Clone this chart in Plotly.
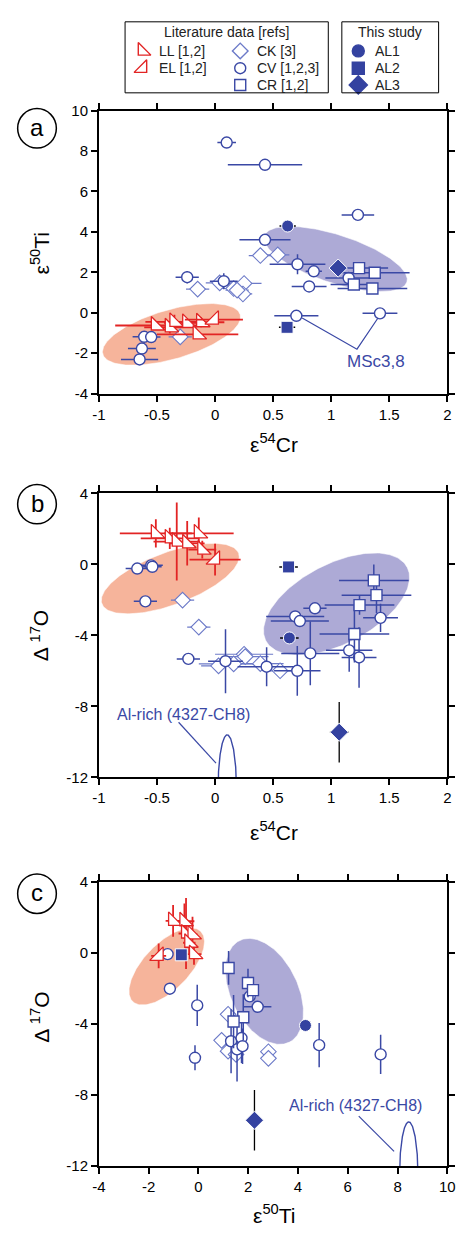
import numpy as np
import plotly.graph_objects as go

W, H = 465, 1237

# ---------------- panel (a): eps54Cr (x) vs eps50Ti (y) ----------------
a_LL_x = [-0.51, -0.39, -0.35, -0.24, -0.12, -0.15]
a_LL_y = [-0.63, -0.72, -0.45, -0.50, -0.47, -1.07]
a_LL_xe = [0.35, 0.22, 0.25, 0.20, 0.20, 0.35]
a_LL_ye = [0.20, 0.30, 0.35, 0.20, 0.25, 0.20]
a_EL_x = [-0.01]
a_EL_y = [-0.34]
a_EL_xe = [0.25]
a_EL_ye = [0.20]
a_CV_x = [0.10, 0.43, 1.23, 0.43, 0.71, 0.85, 1.15, 0.81, -0.24, 0.075, 0.70, 1.42, -0.61, -0.55, -0.63, -0.65]
a_CV_y = [8.42, 7.32, 4.84, 3.61, 2.40, 2.05, 1.72, 1.30, 1.76, 1.56, -0.15, -0.03, -1.19, -1.20, -1.77, -2.31]
a_CV_xe = [0.08, 0.32, 0.14, 0.22, 0.24, 0.07, 0.20, 0.15, 0.10, 0.12, 0.19, 0.15, 0.10, 0.08, 0.12, 0.16]
a_CV_ye = [0.10, 0.10, 0.10, 0.15, 0.50, 0.10, 0.15, 0.10, 0.30, 0.40, 0.10, 0.10, 0.10, 0.10, 0.10, 0.10]
a_CK_x = [0.39, 0.54, -0.15, 0.04, 0.16, 0.25, 0.24, 0.19, -0.30]
a_CK_y = [2.83, 2.86, 1.17, 1.48, 1.20, 1.45, 0.93, 1.12, -1.19]
a_CK_xe = [0.10, 0.10, 0.10, 0.12, 0.10, 0.15, 0.08, 0.10, 0.10]
a_CK_ye = [0.15, 0.15, 0.15, 0.15, 0.15, 0.15, 0.15, 0.15, 0.15]
a_CR_x = [1.24, 1.375, 1.195, 1.355]
a_CR_y = [2.21, 1.98, 1.40, 1.20]
a_CR_xe = [0.25, 0.30, 0.20, 0.30]
a_CR_ye = [0.15, 0.15, 0.15, 0.15]
a_AL1 = [0.625, 4.29]
a_AL2 = [0.62, -0.72]
a_AL3 = [1.06, 2.21]
a_AL_xe = 0.07

# ---------------- panel (b): eps54Cr (x) vs D17O (y) ----------------
b_LL_x = [-0.51, -0.39, -0.33, -0.24, -0.14, -0.11]
b_LL_y = [1.74, 1.46, 1.28, 1.18, 1.74, 0.82]
b_LL_xe = [0.31, 0.25, 0.20, 0.15, 0.30, 0.12]
b_LL_ye = [0.80, 0.60, 2.20, 1.25, 0.90, 0.50]
b_EL_x = [0.0]
b_EL_y = [0.26]
b_EL_xe = [0.22]
b_EL_ye = [0.90]
b_CV_x = [-0.67, -0.55, -0.54, -0.60, 0.86, 0.69, 0.73, 1.425, 0.82, 1.155, 1.24, -0.23, 0.09, 0.444, 0.708]
b_CV_y = [-0.24, -0.06, -0.14, -2.09, -2.48, -2.94, -3.20, -3.02, -5.02, -4.85, -5.25, -5.33, -5.46, -5.77, -6.00]
b_CV_xe = [0.10, 0.10, 0.08, 0.10, 0.10, 0.25, 0.25, 0.15, 0.25, 0.20, 0.15, 0.10, 0.15, 0.25, 0.20]
b_CV_ye = [0.10, 0.10, 0.10, 0.10, 0.10, 0.10, 0.10, 0.80, 1.80, 1.20, 1.70, 0.10, 1.80, 1.10, 1.40]
b_CK_x = [-0.28, -0.14, 0.25, 0.26, 0.03, 0.16, 0.39, 0.56]
b_CK_y = [-2.02, -3.54, -5.07, -5.20, -5.72, -5.61, -5.60, -6.00]
b_CK_xe = [0.10, 0.10, 0.25, 0.20, 0.15, 0.30, 0.20, 0.10]
b_CK_ye = [0.10, 0.10, 0.10, 0.10, 0.10, 0.10, 0.10, 0.10]
b_CR_x = [1.367, 1.39, 1.244, 1.20]
b_CR_y = [-0.91, -1.74, -2.30, -3.93]
b_CR_xe = [0.30, 0.30, 0.30, 0.30]
b_CR_ye = [0.90, 1.00, 0.55, 1.60]
b_AL1 = [0.64, -4.15]
b_AL2 = [0.633, -0.15]
b_AL3 = [1.069, -9.46]
b_AL_xe = 0.08
b_AL3_ye = 1.7

# ---------------- panel (c): eps50Ti (x) vs D17O (y) ----------------
c_LL_x = [-1.02, -0.565, -0.50, -0.24, -0.37, -0.18]
c_LL_y = [1.80, 1.78, 1.09, 1.04, 0.57, -0.07]
c_LL_xe = [0.30, 0.40, 0.30, 0.20, 0.25, 0.30]
c_LL_ye = [0.90, 1.00, 2.00, 1.00, 0.60, 0.60]
c_EL_x = [-1.60]
c_EL_y = [-0.17]
c_EL_xe = [0.30]
c_EL_ye = [0.70]
c_CV_x = [-1.24, -1.15, -0.05, 2.06, 2.38, 1.31, 1.73, 1.55, 1.77, -0.14, 4.85, 7.32]
c_CV_y = [-0.07, -2.02, -2.96, -2.45, -3.04, -4.98, -4.80, -5.44, -5.26, -5.91, -5.20, -5.72]
c_CV_xe = [0.15, 0.15, 0.10, 0.20, 0.55, 0.15, 0.20, 0.20, 0.20, 0.10, 0.10, 0.10]
c_CV_ye = [0.10, 0.10, 1.16, 0.20, 0.30, 1.80, 1.40, 1.80, 1.00, 0.70, 1.25, 1.10]
c_CK_x = [1.19, 0.93, 1.19, 1.51, 2.81, 2.81]
c_CK_y = [-3.46, -4.93, -5.54, -5.72, -5.57, -5.94]
c_CK_xe = [0.10, 0.10, 0.10, 0.10, 0.10, 0.10]
c_CK_ye = [0.10, 0.10, 0.10, 0.10, 0.10, 0.10]
c_CR_x = [1.21, 1.99, 2.19, 1.80, 1.41]
c_CR_y = [-0.85, -1.70, -2.10, -3.63, -3.87]
c_CR_xe = [0.15, 0.15, 0.15, 0.15, 0.15]
c_CR_ye = [0.95, 0.80, 0.60, 1.30, 1.50]
c_AL1 = [4.30, -4.09]
c_AL2 = [-0.69, -0.11]
c_AL3 = [2.25, -9.43]
c_AL3_ye = 1.7

# ---------------- fields (ellipses: centre, axis vector 1, axis vector 2) ----------------
ELL_a_red = [(-0.375, -1.07), (0.592, 0.976), (0.0565, -1.173)]
ELL_a_blue = [(1.038, 2.66), (0.614, -1.14), (-0.0615, -1.135)]
ELL_b_red = [(-0.386, -0.806), (0.589, 1.42), (0.0755, -1.39)]
ELL_b_blue = [(1.046, -2.24), (0.61, 2.05), (0.152, -2.02)]
ELL_c_red = [(-1.277, -0.767), (1.373, 1.97), (0.646, -0.917)]
ELL_c_blue = [(2.651, -2.17), (1.01, -2.856), (-1.198, -0.864)]
ALRICH_b = [(0.105, -12.61), (0.079, 0.0), (0.0, 3.0)]
ALRICH_c = [(8.45, -12.52), (0.37, 0.0), (0.0, 3.0)]

# annotation leader lines
MSC_LINE_X = [0.75, 1.222, 1.403]
MSC_LINE_Y = [-0.26, -1.80, -0.26]
ALR_b_LINE_X = [-0.314, 0.008]
ALR_b_LINE_Y = [-8.9, -11.2]
ALR_c_LINE_X = [6.44, 7.86]
ALR_c_LINE_Y = [-9.2, -11.18]

# ticks
XT_Cr = [-1, -0.5, 0, 0.5, 1, 1.5, 2]
XT_Cr_txt = ['-1', '-0.5', '0', '0.5', '1', '1.5', '2']
YT_Ti = [-4, -2, 0, 2, 4, 6, 8, 10]
YT_Ti_txt = ['-4', '-2', '0', '2', '4', '6', '8', '10']
YT_O = [-12, -8, -4, 0, 4]
YT_O_txt = ['-12', '-8', '-4', '0', '4']
XT_Ti = [-4, -2, 0, 2, 4, 6, 8, 10]
XT_Ti_txt = ['-4', '-2', '0', '2', '4', '6', '8', '10']

RED = 'rgb(226,36,36)'
BLUE = 'rgb(58,72,165)'
LBLUE = 'rgb(108,122,200)'
DBLUE = 'rgb(52,66,160)'
SALMON = 'rgb(246,180,155)'
PURPLE = 'rgb(173,170,214)'
FONT = 'Liberation Sans, Arial, sans-serif'

fig = go.Figure()


def ellipse(par, n=200):
    (cx, cy), (ux, uy), (vx, vy) = par
    t = np.linspace(0, 2 * np.pi, n)
    return cx + ux * np.cos(t) + vx * np.sin(t), cy + uy * np.cos(t) + vy * np.sin(t)


def add_field(par, color, k):
    x, y = ellipse(par)
    fig.add_trace(go.Scatter(x=x, y=y, mode='lines', fill='toself', fillcolor=color,
                             line=dict(color='rgba(255,255,255,0.55)', width=1),
                             xaxis='x' + k, yaxis='y' + k, showlegend=False, hoverinfo='skip'))


def add_pts(x, y, xe, ye, k, symbol, size, edge, fill, lw, ecol, eth=1.5):
    fig.add_trace(go.Scatter(
        x=x, y=y, mode='markers', xaxis='x' + k, yaxis='y' + k, showlegend=False,
        marker=dict(symbol=symbol, size=size, color=fill, line=dict(color=edge, width=lw)),
        error_x=dict(type='data', array=xe, visible=True, color=ecol, thickness=eth, width=0),
        error_y=dict(type='data', array=ye, visible=True, color=ecol, thickness=eth, width=0)))


def add_al(pt, symbol, k, xe=None, ye=None, size=12):
    kw = {}
    if xe is not None:
        kw['error_x'] = dict(type='data', array=[xe], visible=True, color='black', thickness=1.5, width=0)
    if ye is not None:
        kw['error_y'] = dict(type='data', array=[ye], visible=True, color='black', thickness=1.3, width=0)
    fig.add_trace(go.Scatter(x=[pt[0]], y=[pt[1]], mode='markers', xaxis='x' + k, yaxis='y' + k,
                             showlegend=False,
                             marker=dict(symbol=symbol, size=size, color=DBLUE,
                                         line=dict(color='white', width=1)), **kw))


def add_line(x, y, k):
    fig.add_trace(go.Scatter(x=x, y=y, mode='lines', line=dict(color=BLUE, width=1.2),
                             xaxis='x' + k, yaxis='y' + k, showlegend=False, hoverinfo='skip'))


panels = [
    ('', ELL_a_red, ELL_a_blue,
     (a_CK_x, a_CK_y, a_CK_xe, a_CK_ye), (a_CV_x, a_CV_y, a_CV_xe, a_CV_ye),
     (a_CR_x, a_CR_y, a_CR_xe, a_CR_ye), (a_LL_x, a_LL_y, a_LL_xe, a_LL_ye),
     (a_EL_x, a_EL_y, a_EL_xe, a_EL_ye)),
    ('2', ELL_b_red, ELL_b_blue,
     (b_CK_x, b_CK_y, b_CK_xe, b_CK_ye), (b_CV_x, b_CV_y, b_CV_xe, b_CV_ye),
     (b_CR_x, b_CR_y, b_CR_xe, b_CR_ye), (b_LL_x, b_LL_y, b_LL_xe, b_LL_ye),
     (b_EL_x, b_EL_y, b_EL_xe, b_EL_ye)),
    ('3', ELL_c_red, ELL_c_blue,
     (c_CK_x, c_CK_y, c_CK_xe, c_CK_ye), (c_CV_x, c_CV_y, c_CV_xe, c_CV_ye),
     (c_CR_x, c_CR_y, c_CR_xe, c_CR_ye), (c_LL_x, c_LL_y, c_LL_xe, c_LL_ye),
     (c_EL_x, c_EL_y, c_EL_xe, c_EL_ye)),
]

for k, er, eb, ck, cv, cr, ll, el in panels:
    add_field(er, SALMON, k)
    add_field(eb, PURPLE, k)
    add_pts(*ck, k, 'diamond', 12, LBLUE, 'white', 1.1, LBLUE, 1.2)
    add_pts(*cv, k, 'circle', 11, BLUE, 'white', 1.4, BLUE, 1.5)
    add_pts(*cr, k, 'square', 11, BLUE, 'white', 1.4, BLUE, 1.5)
    add_pts(*ll, k, 'triangle-sw', 15, RED, 'white', 1.3, RED, 1.8)
    add_pts(*el, k, 'triangle-se', 15, RED, 'white', 1.3, RED, 1.8)

add_al(a_AL1, 'circle', '', xe=a_AL_xe)
add_al(a_AL2, 'square', '', xe=a_AL_xe)
add_al(a_AL3, 'diamond', '', xe=a_AL_xe, size=14)
add_al(b_AL1, 'circle', '2', xe=b_AL_xe)
add_al(b_AL2, 'square', '2', xe=b_AL_xe)
add_al(b_AL3, 'diamond', '2', xe=b_AL_xe, ye=b_AL3_ye, size=14)
add_al(c_AL1, 'circle', '3')
add_al(c_AL2, 'square', '3')
add_al(c_AL3, 'diamond', '3', ye=c_AL3_ye, size=14)

add_line(MSC_LINE_X, MSC_LINE_Y, '')
add_line(ALR_b_LINE_X, ALR_b_LINE_Y, '2')
add_line(ALR_c_LINE_X, ALR_c_LINE_Y, '3')
for par, k in [(ALRICH_b, '2'), (ALRICH_c, '3')]:
    x, y = ellipse(par, 400)
    fig.add_trace(go.Scatter(x=x, y=y, mode='lines', line=dict(color=BLUE, width=1.4),
                             xaxis='x' + k, yaxis='y' + k, showlegend=False, hoverinfo='skip'))

# ---------------- legend (drawn on an overlay pixel axis) ----------------
LEG_ROWS = [42.5, 60, 77]
leg_items = [
    ('LL [1,2]', 'triangle-sw', 'white', RED, 140, LEG_ROWS[0], 14),
    ('EL [1,2]', 'triangle-se', 'white', RED, 140, LEG_ROWS[1], 14),
    ('CK [3]', 'diamond', 'white', LBLUE, 241, LEG_ROWS[0], 12),
    ('CV [1,2,3]', 'circle', 'white', BLUE, 241, LEG_ROWS[1], 11),
    ('CR [1,2]', 'square', 'white', BLUE, 241, LEG_ROWS[2], 11),
    ('AL1', 'circle', DBLUE, DBLUE, 363, LEG_ROWS[0], 12),
    ('AL2', 'square', DBLUE, DBLUE, 363, LEG_ROWS[1], 12),
    ('AL3', 'diamond', DBLUE, DBLUE, 363, LEG_ROWS[2], 14),
]
annotations = []
for name, sym, fill, edge, px, py, sz in leg_items:
    fig.add_trace(go.Scatter(x=[px], y=[py], mode='markers', xaxis='x4', yaxis='y4', showlegend=False,
                             marker=dict(symbol=sym, size=sz, color=fill, line=dict(color=edge, width=1.4)),
                             hoverinfo='skip'))
    annotations.append(dict(text=name, x=(px + 15) / W, y=1 - py / H, xref='paper', yref='paper',
                            xanchor='left', yanchor='middle', showarrow=False,
                            font=dict(family=FONT, size=14, color='#222')))

annotations += [
    dict(text='Literature data [refs]', x=227 / W, y=1 - 23 / H, xref='paper', yref='paper',
         showarrow=False, xanchor='center', yanchor='middle', font=dict(family=FONT, size=14, color='#222')),
    dict(text='This study', x=396 / W, y=1 - 23 / H, xref='paper', yref='paper',
         showarrow=False, xanchor='center', yanchor='middle', font=dict(family=FONT, size=14, color='#222')),
]

shapes = [
    dict(type='rect', xref='paper', yref='paper', x0=122 / W, x1=332 / W, y0=1 - 85 / H, y1=1 - 13 / H,
         line=dict(color='black', width=1)),
    dict(type='rect', xref='paper', yref='paper', x0=346 / W, x1=446 / W, y0=1 - 85 / H, y1=1 - 13 / H,
         line=dict(color='black', width=1)),
]

# panel labels
for lab, cy in [('a', 121), ('b', 502), ('c', 897)]:
    shapes.append(dict(type='circle', xref='paper', yref='paper', x0=11 / W, x1=51 / W,
                       y0=1 - (cy + 20) / H, y1=1 - (cy - 20) / H, line=dict(color='black', width=1.5)))
    annotations.append(dict(text=lab, x=31 / W, y=1 - (cy - 1) / H, xref='paper', yref='paper',
                            showarrow=False, xanchor='center', yanchor='middle',
                            font=dict(family=FONT, size=24, color='black')))

# axis titles
TITLE_FONT = dict(family=FONT, size=21, color='black')
for txt, x, y, ang in [('ε<sup>50</sup>Ti', 34, 248, -90), ('Δ <sup>17</sup>O', 34, 635, -90),
                       ('Δ <sup>17</sup>O', 34, 1022, -90),
                       ('ε<sup>54</sup>Cr', 276, 440, 0), ('ε<sup>54</sup>Cr', 276, 833, 0),
                       ('ε<sup>50</sup>Ti', 276, 1222, 0)]:
    annotations.append(dict(text=txt, x=x / W, y=1 - y / H, xref='paper', yref='paper', showarrow=False,
                            xanchor='center', yanchor='middle', textangle=ang, font=TITLE_FONT))

# in-plot labels
annotations += [
    dict(text='MSc3,8', x=1.39, y=-2.42, xref='x', yref='y', showarrow=False,
         font=dict(family=FONT, size=17, color=BLUE)),
    dict(text='Al-rich (4327-CH8)', x=-0.27, y=-8.45, xref='x2', yref='y2', showarrow=False,
         font=dict(family=FONT, size=16, color=BLUE)),
    dict(text='Al-rich (4327-CH8)', x=6.31, y=-8.6, xref='x3', yref='y3', showarrow=False,
         font=dict(family=FONT, size=16, color=BLUE)),
]

X_DOM = [95 / W, 455 / W]
Y_DOM_a = [1 - 390 / H, 1 - 103 / H]
Y_DOM_b = [1 - 779 / H, 1 - 491 / H]
Y_DOM_c = [1 - 1173 / H, 1 - 885 / H]

ax_common = dict(showline=True, linecolor='black', linewidth=1.8, mirror='allticks', ticks='outside',
                 ticklen=6, tickwidth=1.8, tickcolor='black', showgrid=False, zeroline=False,
                 tickfont=dict(family=FONT, size=15, color='black'), fixedrange=True)

fig.update_layout(
    width=W, height=H, autosize=False, margin=dict(l=0, r=0, t=0, b=0),
    paper_bgcolor='white', plot_bgcolor='rgba(0,0,0,0)', showlegend=False,
    xaxis=dict(domain=X_DOM, anchor='y', range=[-1, 2], tickvals=XT_Cr, ticktext=XT_Cr_txt, **ax_common),
    yaxis=dict(domain=Y_DOM_a, anchor='x', range=[-4, 10], tickvals=YT_Ti, ticktext=YT_Ti_txt, **ax_common),
    xaxis2=dict(domain=X_DOM, anchor='y2', range=[-1, 2], tickvals=XT_Cr, ticktext=XT_Cr_txt, **ax_common),
    yaxis2=dict(domain=Y_DOM_b, anchor='x2', range=[-12, 4], tickvals=YT_O, ticktext=YT_O_txt, **ax_common),
    xaxis3=dict(domain=X_DOM, anchor='y3', range=[-4, 10], tickvals=XT_Ti, ticktext=XT_Ti_txt, **ax_common),
    yaxis3=dict(domain=Y_DOM_c, anchor='x3', range=[-12, 4], tickvals=YT_O, ticktext=YT_O_txt, **ax_common),
    xaxis4=dict(domain=[0, 1], anchor='y4', range=[0, W], visible=False, fixedrange=True),
    yaxis4=dict(domain=[0, 1], anchor='x4', range=[H, 0], visible=False, fixedrange=True),
    shapes=shapes, annotations=annotations,
)

fig.write_html("out.html")
